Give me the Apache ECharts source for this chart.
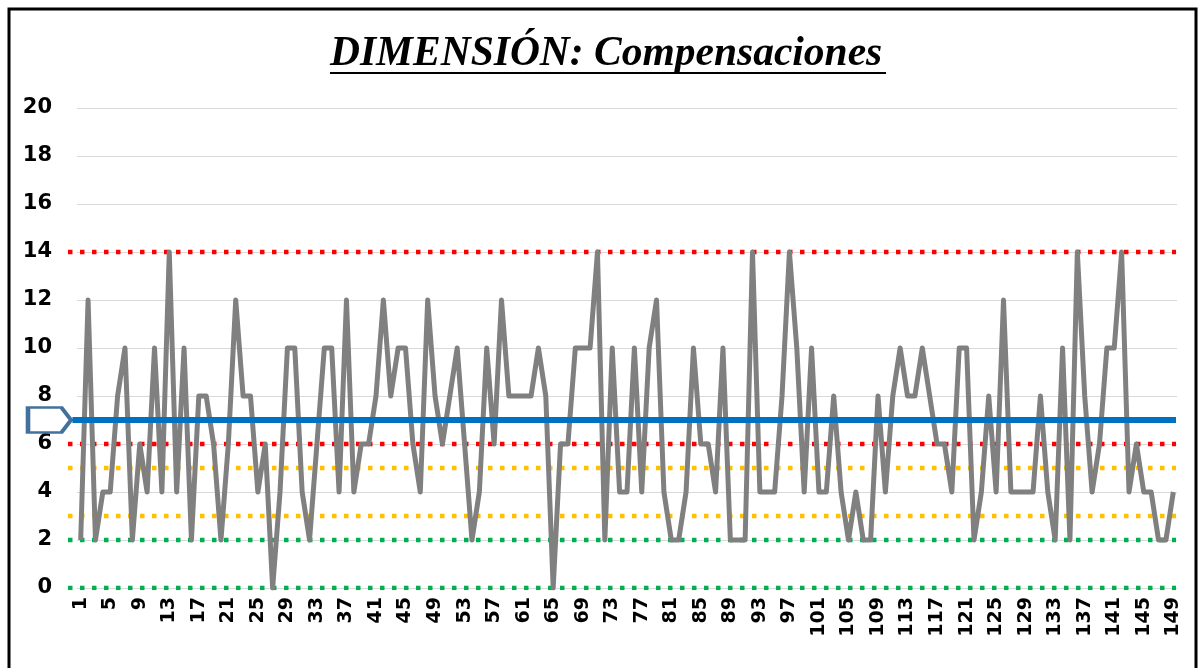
<!DOCTYPE html>
<html><head><meta charset="utf-8">
<script src="https://cdn.jsdelivr.net/npm/echarts@6/dist/echarts.min.js"></script>
<style>html,body{margin:0;padding:0;background:#fff}#c{width:1202px;height:668px}</style>
</head><body><div id="c"></div>
<script>
// Category labels: respondents 1..149
const categories = [];
for (let i = 1; i <= 149; i++) categories.push(String(i));

// Dimension score per respondent
const scores = [
  2,12,2,4,4,8,10,2,6,4, 10,4,14,4,10,2,8,8,6,2,
  6,12,8,8,4,6,0,4,10,10, 4,2,6,10,10,4,12,4,6,6,
  8,12,8,10,10,6,4,12,8,6, 8,10,6,2,4,10,6,12,8,8,
  8,8,10,8,0,6,6,10,10,10, 14,2,10,4,4,10,4,10,12,4,
  2,2,4,10,6,6,4,10,2,2, 2,14,4,4,4,8,14,10,4,10,
  4,4,8,4,2,4,2,2,8,4, 8,10,8,8,10,8,6,6,4,10,
  10,2,4,8,4,12,4,4,4,4, 8,4,2,10,2,14,8,4,6,10,
  10,14,4,6,4,4,2,2,4
];

// Reference levels
const redLevels = [14, 6];
const yellowLevels = [5, 3];
const greenLevels = [2, 0];
const meanLevel = 7;

// Y axis tick range
const yMin = 0, yMax = 20, yStep = 2;

const chart = echarts.init(document.getElementById('c'), null, {renderer: 'canvas'});

function refSeries(level, color) {
  return {
    type: 'line', xAxisIndex: 1, yAxisIndex: 1,
    data: [[0, level], [1, level]],
    symbol: 'none', silent: true, z: 1,
    lineStyle: {color: color, width: 4.5, type: [4.5, 7.5], cap: 'butt'}
  };
}

const series = [];
redLevels.forEach(v => series.push(refSeries(v, '#FF0000')));
yellowLevels.forEach(v => series.push(refSeries(v, '#FFC000')));
greenLevels.forEach(v => series.push(refSeries(v, '#00B050')));
series.push({
  type: 'line', xAxisIndex: 0, yAxisIndex: 0,
  data: scores, symbol: 'none', z: 3,
  lineStyle: {color: '#808080', width: 5, join: 'round'}
});
series.push({
  type: 'line', xAxisIndex: 1, yAxisIndex: 1,
  data: [[0.004, meanLevel], [1, meanLevel]],
  symbol: 'none', z: 5, silent: true,
  lineStyle: {color: '#0070C0', width: 6},
  markPoint: {
    silent: true,
    data: [{coord: [0, meanLevel]}],
    symbol: 'path://M0,0 L35,0 L45,13.5 L35,27 L0,27 Z',
    symbolSize: [43, 25],
    symbolKeepAspect: false,
    symbolOffset: [-18.5, 0],
    itemStyle: {color: '#FFFFFF', borderColor: '#41719C', borderWidth: 3.5},
    label: {show: false}
  }
});

chart.setOption({
  animation: false,
  backgroundColor: '#FFFFFF',
  title: {
    text: 'DIMENSIÓN: Compensaciones',
    left: 325, top: 29,
    textStyle: {fontFamily: 'Liberation Serif', fontStyle: 'italic', fontWeight: 'bold', fontSize: 41.5, color: '#000'}
  },
  graphic: [
    {type: 'rect', shape: {x: 9, y: 9, width: 1187, height: 680}, style: {fill: 'none', stroke: '#000', lineWidth: 3}, silent: true},
    {type: 'line', shape: {x1: 330, y1: 73, x2: 886, y2: 73}, style: {stroke: '#000', lineWidth: 2}, silent: true}
  ],
  grid: [
    {left: 77, right: 25, top: 108, bottom: 80},
    {left: 68, right: 26, top: 108, bottom: 80}
  ],
  xAxis: [
    {
      type: 'category', gridIndex: 0, data: categories, boundaryGap: true,
      axisLine: {show: true, lineStyle: {color: '#D9D9D9'}},
      axisTick: {show: false},
      axisLabel: {interval: 3, rotate: 90, margin: 9, color: '#000', fontFamily: 'DejaVu Sans', fontWeight: 'bold', fontSize: 19}
    },
    {type: 'value', gridIndex: 1, min: 0, max: 1, show: false}
  ],
  yAxis: [
    {
      type: 'value', gridIndex: 0, min: yMin, max: yMax, interval: yStep,
      axisLine: {show: false}, axisTick: {show: false},
      splitLine: {lineStyle: {color: '#D9D9D9', width: 1}},
      axisLabel: {margin: 25, color: '#000', fontFamily: 'DejaVu Sans', fontWeight: 'bold', fontSize: 21}
    },
    {type: 'value', gridIndex: 1, min: yMin, max: yMax, show: false}
  ],
  series: series
});
</script></body></html>
